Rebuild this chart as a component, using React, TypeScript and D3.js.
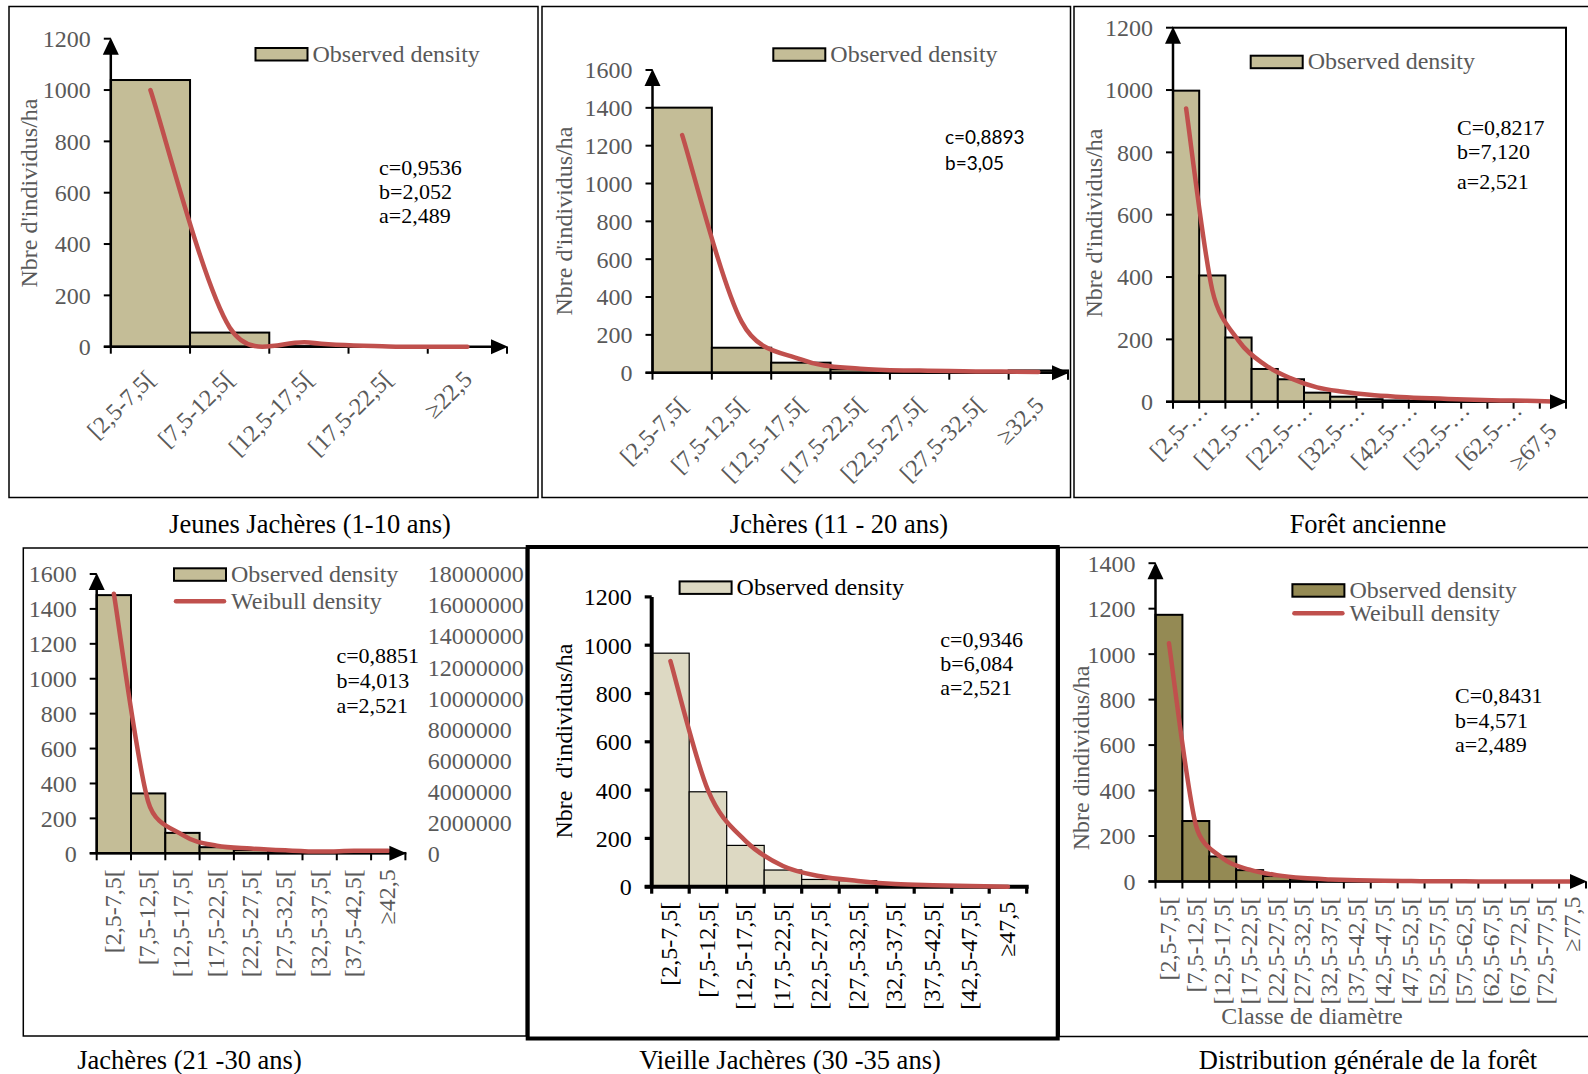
import React from 'react';
import * as d3 from 'd3';

// ---------- data ----------
// Jeunes Jachères (1-10 ans)
const classesJeunes = ['[2,5-7,5[', '[7,5-12,5[', '[12,5-17,5[', '[17,5-22,5[', '≥22,5'];
const observedJeunes = [1039, 55, 2, 1, 0];
const weibullJeunes = [1000, 75, 16, 1, 0];

// Jchères (11 - 20 ans)
const classes1120 = ['[2,5-7,5[', '[7,5-12,5[', '[12,5-17,5[', '[17,5-22,5[', '[22,5-27,5[', '[27,5-32,5[', '≥32,5'];
const observed1120 = [1401, 132, 53, 18, 11, 5, 12];
const weibull1120 = [1256, 270, 70, 21, 11, 7, 4];

// Forêt ancienne
const classesAncienne = [
  '[2,5-7,5[', '[7,5-12,5[', '[12,5-17,5[', '[17,5-22,5[', '[22,5-27,5[', '[27,5-32,5[', '[32,5-37,5[',
  '[37,5-42,5[', '[42,5-47,5[', '[47,5-52,5[', '[52,5-57,5[', '[57,5-62,5[', '[62,5-67,5[', '[67,5-72,5[', '≥67,5',
];
const observedAncienne = [998, 405, 206, 105, 72, 29, 16, 8, 4, 3, 2, 1, 1, 1, 1];
const weibullAncienne = [941, 358, 196, 119, 75, 46, 32, 22, 16, 12, 9, 6, 4, 3, 1];

// Jachères (21 -30 ans)
const classes2130 = ['[2,5-7,5[', '[7,5-12,5[', '[12,5-17,5[', '[17,5-22,5[', '[22,5-27,5[', '[27,5-32,5[', '[32,5-37,5[', '[37,5-42,5[', '≥42,5'];
const observed2130 = [1479, 343, 117, 35, 18, 8, 5, 3, 2];
const weibull2130 = [1487, 296, 105, 43, 27, 17, 10, 14, 14];
const rightTicks2130 = [0, 2000000, 4000000, 6000000, 8000000, 10000000, 12000000, 14000000, 16000000, 18000000];

// Vieille Jachères (30 -35 ans)
const classes3035 = ['[2,5-7,5[', '[7,5-12,5[', '[12,5-17,5[', '[17,5-22,5[', '[22,5-27,5[', '[27,5-32,5[', '[32,5-37,5[', '[37,5-42,5[', '[42,5-47,5[', '≥47,5'];
const observed3035 = [967, 393, 171, 69, 30, 25, 11, 6, 3, 1];
const weibull3035 = [934, 400, 190, 86, 43, 24, 11, 6, 3, 0];

// Distribution générale de la forêt
const classesGenerale = [
  '[2,5-7,5[', '[7,5-12,5[', '[12,5-17,5[', '[17,5-22,5[', '[22,5-27,5[', '[27,5-32,5[', '[32,5-37,5[', '[37,5-42,5[',
  '[42,5-47,5[', '[47,5-52,5[', '[52,5-57,5[', '[57,5-62,5[', '[62,5-67,5[', '[67,5-72,5[', '[72,5-77,5[', '≥77,5',
];
const observedGenerale = [1173, 266, 110, 50, 24, 12, 6, 3, 2, 1, 1, 1, 0, 0, 0, 0];
const weibullGenerale = [1048, 248, 102, 52, 28, 15, 9, 5, 3, 2, 1, 1, 0, 0, 0, 0];

// ---------- styling ----------
const GRAY = '#595959';
const RED = '#c0504d';
const SERIF = '"Liberation Serif", "Times New Roman", serif';
const SANS = 'Lato, "Open Sans", sans-serif';
const FS = 24;

type Cfg = {
  frame: { x: number; y: number; w: number; h: number; sw: number };
  axisX: number; xEnd: number; yZero: number; yTop: number; yMax: number; yStep: number;
  classes: string[]; observed: number[]; weibull: number[];
  fill: string; barSw: number; axisSw: number; arrows: boolean; box?: boolean;
  ink: string;
  labels: 'diag' | 'vert'; every: number; ldx: number; ldy: number;
  truncate?: boolean; fullDx?: number; fullDy?: number;
  yTitle?: { x: number; y: number; text: string };
  legend: { x: number; y: number; weibull: boolean; gap?: number };
  params: { x: number; ys: number[]; lines: string[]; font: string; size: number };
  right?: { x: number; ticks: number[] };
  title: { x: number; y: number; text: string };
  xTitle?: { x: number; y: number; text: string };
};

const shorten = (s: string) => (s.includes('-') ? s.slice(0, s.indexOf('-') + 1) + '…' : s);

// Excel style smoothed line: Catmull-Rom beziers with control arms capped at half a segment
function smoothPath(pts: [number, number][]) {
  const p = d3.path();
  p.moveTo(pts[0][0], pts[0][1]);
  for (let i = 0; i < pts.length - 1; i++) {
    const p0 = pts[i - 1] ?? pts[i];
    const p1 = pts[i];
    const p2 = pts[i + 1];
    const p3 = pts[i + 2] ?? pts[i + 1];
    const lim = Math.hypot(p2[0] - p1[0], p2[1] - p1[1]) / 2;
    let t1 = [(p2[0] - p0[0]) / 6, (p2[1] - p0[1]) / 6];
    let t2 = [(p3[0] - p1[0]) / 6, (p3[1] - p1[1]) / 6];
    const l1 = Math.hypot(t1[0], t1[1]);
    const l2 = Math.hypot(t2[0], t2[1]);
    if (l1 > lim) t1 = t1.map(v => (v * lim) / l1);
    if (l2 > lim) t2 = t2.map(v => (v * lim) / l2);
    p.bezierCurveTo(p1[0] + t1[0], p1[1] + t1[1], p2[0] - t2[0], p2[1] - t2[1], p2[0], p2[1]);
  }
  return p.toString();
}

function Panel({ c }: { c: Cfg }) {
  const x = d3.scaleBand<string>().domain(c.classes).range([c.axisX, c.xEnd]).padding(0);
  const bw = x.bandwidth();
  const y = d3.scaleLinear().domain([0, c.yMax]).range([c.yZero, c.yTop]);
  const ticks = d3.range(0, c.yMax + c.yStep / 2, c.yStep);
  const cx = (i: number) => (x(c.classes[i]) as number) + bw / 2;
  const curvePts = c.weibull.map((v, i) => [cx(i), y(v)] as [number, number]);
  const f = c.frame;
  const boundaries = d3.range(c.classes.length + 1).map(i => c.axisX + i * bw);
  const gap = c.legend.gap ?? 30;

  return (
    <g>
      <rect x={f.x} y={f.y} width={f.w} height={f.h} fill="none" stroke="#000" strokeWidth={f.sw} />
      {c.box && (
        <rect x={c.axisX} y={c.yTop} width={c.xEnd - c.axisX} height={c.yZero - c.yTop}
          fill="none" stroke="#000" strokeWidth={2} />
      )}

      {c.observed.map((v, i) => (
        <rect key={i} x={x(c.classes[i])} y={y(v)} width={bw} height={c.yZero - y(v)}
          fill={c.fill} stroke="#000" strokeWidth={c.barSw} />
      ))}

      {/* y axis */}
      <line x1={c.axisX} x2={c.axisX} y1={c.yZero} y2={c.arrows ? c.yTop + 4 : c.yTop} stroke="#000" strokeWidth={c.axisSw} />
      {ticks.map(t => (
        <g key={t}>
          <line x1={c.axisX - 7} x2={c.axisX} y1={y(t)} y2={y(t)} stroke="#000" strokeWidth={c.axisSw * 0.8} />
          <text x={c.axisX - 20} y={y(t)} dy="0.35em" textAnchor="end" fontFamily={SERIF} fontSize={FS} fill={c.ink}>{t}</text>
        </g>
      ))}

      {/* x axis */}
      <line x1={c.axisX - 7} x2={c.arrows ? c.xEnd - 4 : c.xEnd + 2} y1={c.yZero} y2={c.yZero} stroke="#000" strokeWidth={c.axisSw} />
      {boundaries.map((b, i) => (
        <line key={i} x1={b} x2={b} y1={c.yZero} y2={c.yZero + 7} stroke="#000" strokeWidth={c.axisSw * 0.8} />
      ))}

      <path d={smoothPath(curvePts)} fill="none" stroke={RED} strokeWidth={4.5} strokeLinecap="round" />

      {c.arrows && (
        <g fill="#000">
          <polygon points={`${c.axisX},${c.yTop - 1} ${c.axisX - 8},${c.yTop + 16} ${c.axisX + 8},${c.yTop + 16}`} />
          <polygon points={`${c.xEnd + 1},${c.yZero} ${c.xEnd - 16},${c.yZero - 7.5} ${c.xEnd - 16},${c.yZero + 7.5}`} />
        </g>
      )}

      {/* category labels */}
      {c.classes.map((s, i) => {
        if (i % c.every !== 0) return null;
        const txt = c.truncate ? shorten(s) : s;
        const isFull = c.truncate && txt === s;
        const dx = isFull && c.fullDx !== undefined ? c.fullDx : c.ldx;
        const dy = isFull && c.fullDy !== undefined ? c.fullDy : c.ldy;
        const rot = c.labels === 'diag' ? -45 : -90;
        return (
          <text key={i} transform={`translate(${cx(i) + dx},${c.yZero + dy}) rotate(${rot})`}
            textAnchor="end" fontFamily={SERIF} fontSize={FS} fill={c.ink}>{txt}</text>
        );
      })}

      {c.right && c.right.ticks.map(t => {
        const yr = d3.scaleLinear().domain([0, d3.max(c.right!.ticks) as number]).range([c.yZero, c.yTop]);
        return (
          <text key={t} x={c.right!.x} y={yr(t)} dy="0.35em" fontFamily={SERIF} fontSize={FS} fill={GRAY}>{t}</text>
        );
      })}

      {c.yTitle && (
        <text transform={`translate(${c.yTitle.x},${c.yTitle.y}) rotate(-90)`} dy="0.35em" textAnchor="middle"
          fontFamily={SERIF} fontSize={FS} fill={c.ink} style={{ whiteSpace: 'pre' }}>{c.yTitle.text}</text>
      )}
      {c.xTitle && (
        <text x={c.xTitle.x} y={c.xTitle.y} dy="0.35em" textAnchor="middle" fontFamily={SERIF} fontSize={FS} fill={GRAY}>{c.xTitle.text}</text>
      )}

      {/* legend */}
      <rect x={c.legend.x} y={c.legend.y} width={52} height={12.5} fill={c.fill} stroke="#000" strokeWidth={2} />
      <text x={c.legend.x + 57} y={c.legend.y + 13.5} fontFamily={SERIF} fontSize={FS} fill={c.ink}>Observed density</text>
      {c.legend.weibull && (
        <g>
          <line x1={c.legend.x + 2} x2={c.legend.x + 50} y1={c.legend.y + gap} y2={c.legend.y + gap}
            stroke={RED} strokeWidth={4.5} strokeLinecap="round" />
          <text x={c.legend.x + 57} y={c.legend.y + gap + 7.5} fontFamily={SERIF} fontSize={FS} fill={c.ink}>Weibull density</text>
        </g>
      )}

      {c.params.lines.map((l, i) => (
        <text key={i} x={c.params.x} y={c.params.ys[i]} fontFamily={c.params.font} fontSize={c.params.size} fill="#000">{l}</text>
      ))}

      <text x={c.title.x} y={c.title.y} textAnchor="middle" fontFamily={SERIF} fontSize={26.5} fill="#000">{c.title.text}</text>
    </g>
  );
}

const panels: Cfg[] = [
  {
    frame: { x: 9, y: 6.5, w: 529, h: 491, sw: 1.5 },
    axisX: 110.8, xEnd: 507, yZero: 346.7, yTop: 38.7, yMax: 1200, yStep: 200,
    classes: classesJeunes, observed: observedJeunes, weibull: weibullJeunes,
    fill: '#c4bd97', barSw: 2, axisSw: 2.5, arrows: true, ink: GRAY,
    labels: 'diag', every: 1, ldx: 6, ldy: 34,
    yTitle: { x: 29, y: 193, text: "Nbre d'individus/ha" },
    legend: { x: 255.5, y: 48, weibull: false },
    params: { x: 379, ys: [175, 199, 223], lines: ['c=0,9536', 'b=2,052', 'a=2,489'], font: SERIF, size: 22 },
    title: { x: 310, y: 533, text: 'Jeunes Jachères (1-10 ans)' },
  },
  {
    frame: { x: 542, y: 6.5, w: 528.5, h: 491, sw: 1.5 },
    axisX: 652.5, xEnd: 1068, yZero: 372.7, yTop: 70, yMax: 1600, yStep: 200,
    classes: classes1120, observed: observed1120, weibull: weibull1120,
    fill: '#c4bd97', barSw: 2, axisSw: 2.5, arrows: true, ink: GRAY,
    labels: 'diag', every: 1, ldx: 7, ldy: 34,
    yTitle: { x: 563.7, y: 221, text: "Nbre d'individus/ha" },
    legend: { x: 773.3, y: 48.3, weibull: false },
    params: { x: 945, ys: [144.3, 170], lines: ['c=0,8893', 'b=3,05'], font: SANS, size: 19 },
    title: { x: 839, y: 533, text: 'Jchères (11 - 20 ans)' },
  },
  {
    frame: { x: 1074, y: 6.5, w: 520, h: 491, sw: 1.5 },
    axisX: 1173, xEnd: 1566, yZero: 401.7, yTop: 27.7, yMax: 1200, yStep: 200,
    classes: classesAncienne, observed: observedAncienne, weibull: weibullAncienne,
    fill: '#c4bd97', barSw: 2, axisSw: 2.5, arrows: true, box: true, ink: GRAY,
    labels: 'diag', every: 2, ldx: 23, ldy: 10, truncate: true, fullDx: 5, fullDy: 31,
    yTitle: { x: 1093.5, y: 223, text: "Nbre d'individus/ha" },
    legend: { x: 1250.7, y: 55.7, weibull: false },
    params: { x: 1457, ys: [135, 159.3, 189.3], lines: ['C=0,8217', 'b=7,120', 'a=2,521'], font: SERIF, size: 22 },
    title: { x: 1368, y: 533, text: 'Forêt ancienne' },
  },
  {
    frame: { x: 23.3, y: 548, w: 503, h: 488, sw: 1.5 },
    axisX: 96.7, xEnd: 405.4, yZero: 853.3, yTop: 574, yMax: 1600, yStep: 200,
    classes: classes2130, observed: observed2130, weibull: weibull2130,
    fill: '#c4bd97', barSw: 2, axisSw: 2.5, arrows: true, ink: GRAY,
    labels: 'vert', every: 1, ldx: 7, ldy: 16,
    legend: { x: 174, y: 568.3, weibull: true, gap: 33 },
    params: { x: 336.4, ys: [662.6, 688.2, 713], lines: ['c=0,8851', 'b=4,013', 'a=2,521'], font: SERIF, size: 22 },
    right: { x: 427.7, ticks: rightTicks2130 },
    title: { x: 189.5, y: 1069, text: 'Jachères (21 -30 ans)' },
  },
  {
    frame: { x: 527.7, y: 547, w: 530, h: 491.5, sw: 4 },
    axisX: 651.7, xEnd: 1026.7, yZero: 886.7, yTop: 596.9, yMax: 1200, yStep: 200,
    classes: classes3035, observed: observed3035, weibull: weibull3035,
    fill: '#ddd9c3', barSw: 1.2, axisSw: 4, arrows: false, ink: '#000',
    labels: 'vert', every: 1, ldx: 7, ldy: 15,
    yTitle: { x: 563.2, y: 741, text: "Nbre  d'individus/ha" },
    legend: { x: 679.6, y: 581.4, weibull: false },
    params: { x: 940.3, ys: [646.7, 670.8, 694.8], lines: ['c=0,9346', 'b=6,084', 'a=2,521'], font: SERIF, size: 22 },
    title: { x: 790, y: 1069, text: 'Vieille Jachères (30 -35 ans)' },
  },
  {
    frame: { x: 1059.2, y: 547.5, w: 535, h: 489, sw: 1.5 },
    axisX: 1155.5, xEnd: 1586, yZero: 881.5, yTop: 563.2, yMax: 1400, yStep: 200,
    classes: classesGenerale, observed: observedGenerale, weibull: weibullGenerale,
    fill: '#948a54', barSw: 2, axisSw: 2.5, arrows: true, ink: GRAY,
    labels: 'vert', every: 1, ldx: 7, ldy: 15,
    yTitle: { x: 1081, y: 758, text: 'Nbre dindividus/ha' },
    xTitle: { x: 1312, y: 1016, text: 'Classe de diamètre' },
    legend: { x: 1292.4, y: 584.2, weibull: true, gap: 29 },
    params: { x: 1455, ys: [703, 727.5, 751.6], lines: ['C=0,8431', 'b=4,571', 'a=2,489'], font: SERIF, size: 22 },
    title: { x: 1368, y: 1069, text: 'Distribution générale de la forêt' },
  },
];

export default function App() {
  return (
    <svg width={1588} height={1074} style={{ position: 'absolute', left: 0, top: 0, background: '#fff' }}>
      <rect width={1588} height={1074} fill="#fff" />
      {panels.map((p, i) => <Panel key={i} c={p} />)}
    </svg>
  );
}
